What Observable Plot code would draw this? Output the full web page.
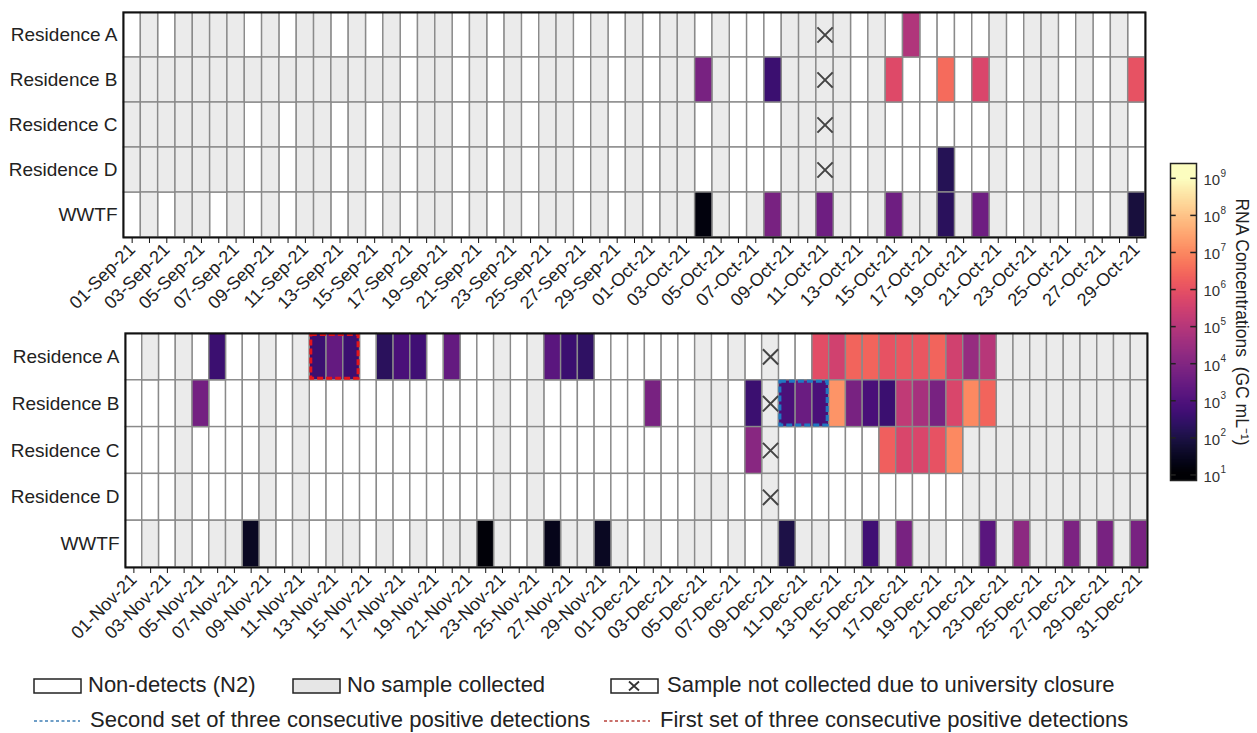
<!DOCTYPE html>
<html><head><meta charset="utf-8">
<script src="https://cdn.jsdelivr.net/npm/d3@7"></script>
<script src="https://cdn.jsdelivr.net/npm/@observablehq/plot@0.6"></script>
<style>
body{margin:0;background:#fff;font-family:"Liberation Sans",Arial,sans-serif;}
#wrap{position:relative;width:1257px;height:733px;overflow:hidden;background:#fff;}
.abs{position:absolute;}
.leg{position:absolute;font-size:22px;color:#222;white-space:nowrap;line-height:22px;}
</style></head><body><div id="wrap"></div>
<script>
// ---------- categories ----------
const rowNames = ["Residence A","Residence B","Residence C","Residence D","WWTF"];
// "w" = non-detect, "g" = no sample, "x" = closure, number = log10 RNA conc. (GC/mL)
// ---------- Sep 1 – Oct 29, 2021 ----------
const soResA = ["w","g","w","g","g","g","g","w","g","w", "g","g","w","g","w","g","w","g","g","w", "g","w","g","w","g","g","w","g","w","g", "w","g","g","w","g","w","w","w","g","g", "x","g","w","g","w",4.9,"w","w","w","w", "g","w","g","g","w","g","w","g","w"];
const soResB = ["g","g","g","g","g","g","g","g","g","g", "g","g","g","g","g","g","w","g","g","w", "g","w","g","w","g","g","w","g","w","g", "w","g","g",3.8,"g","w","w",2.6,"g","g", "x","g","w","g",5.8,"w","w",6.5,"w",5.7, "g","w","g","g","w","g","w","g",6.0];
const soResC = ["g","g","g","g","g","g","g","w","g","w", "g","g","w","g","w","g","w","g","g","w", "g","w","g","w","g","g","w","g","w","g", "w","g","g","w","g","w","w","w","g","g", "x","g","w","g","w","w","w","w","w","w", "g","w","g","g","w","g","w","g","w"];
const soResD = ["g","g","g","g","g","g","g","w","g","w", "g","g","w","g","w","g","w","g","g","w", "g","w","g","w","g","g","w","g","w","g", "w","g","g","w","g","w","w","w","g","g", "x","g","w","g","w","w","w",2.2,"w","w", "g","w","g","g","w","g","w","g","w"];
const soWWTF = ["w","g","w","g","g","w","g","w","g","w", "g","g","w","g","w","g","w","g","g","w", "g","w","g","w","g","g","w","g","w","g", "w","g","g",1.2,"g","w","g",3.8,"g","g", 3.6,"g","w","g",3.6,"g","g",2.3,"g",3.6, "g","w","g","g","w","g","w","g",1.9];
const soTickLabels = ["01-Sep-21","03-Sep-21","05-Sep-21","07-Sep-21","09-Sep-21","11-Sep-21","13-Sep-21","15-Sep-21","17-Sep-21","19-Sep-21","21-Sep-21","23-Sep-21","25-Sep-21","27-Sep-21","29-Sep-21","01-Oct-21","03-Oct-21","05-Oct-21","07-Oct-21","09-Oct-21","11-Oct-21","13-Oct-21","15-Oct-21","17-Oct-21","19-Oct-21","21-Oct-21","23-Oct-21","25-Oct-21","27-Oct-21","29-Oct-21"];
// ---------- Nov 1 – Dec 31, 2021 ----------
const ndResA = ["w","g","w","g","w",2.6,"w","w","g","w", "g",2.6,3.4,2.6,"w",2.3,2.9,2.7,"w",3.4, "w","w","g","w","g",3.2,2.6,2.4,"w","w", "w","w","w","w","g","w","g","w","x","w", "w",5.9,5.5,6.4,6.4,6.0,6.1,6.1,6.4,5.5, 4.4,5.0,"g","g","g","g","g","g","g","g","g"];
const ndResB = ["w","w","w","g",3.7,"w","w","w","g","w", "g","w","w","w","w","w","w","w","w","w", "w","w","g","w","g","w","w","w","w","w", "w",3.8,"w","w","g","g","w",2.6,"x",2.9, 3.5,2.9,7.2,3.8,2.9,2.6,5.2,4.7,3.8,5.7, 7.0,6.4,"g","g","g","g","g","g","g","g","g"];
const ndResC = ["w","w","w","g","w","w","w","w","g","w", "g","w","w","w","w","w","w","w","w","w", "w","w","g","w","g","w","w","w","w","w", "w","w","w","w","g","w","w",4.1,"x","w", "w","w","w","w","w",6.3,5.7,5.7,6.0,7.0, "g","g","g","g","g","g","g","g","g","g","g"];
const ndResD = ["w","w","w","g","w","w","w","w","g","w", "g","w","w","w","w","w","w","w","w","w", "w","w","g","w","g","w","w","w","w","w", "w","w","w","w","g","g","w","w","x","w", "w","w","w","w","w","w","w","w","w","w", "g","g","g","g","g","g","g","g","g","g","g"];
const ndWWTF = ["w","g","w","g","w","g","g",1.5,"g","w", "g","w","g","g","w","g","w","g","w","g", "g",1.1,"g","w","g",1.4,"g","g",1.5,"g", "w","g","w","g","g","w","g","w","g",2.0, "g","g","w","g",2.7,"g",3.8,"g","g","w", "g",3.2,"g",4.2,"g","g",3.9,"g",3.8,"g",3.8];
const ndTickLabels = ["01-Nov-21","03-Nov-21","05-Nov-21","07-Nov-21","09-Nov-21","11-Nov-21","13-Nov-21","15-Nov-21","17-Nov-21","19-Nov-21","21-Nov-21","23-Nov-21","25-Nov-21","27-Nov-21","29-Nov-21","01-Dec-21","03-Dec-21","05-Dec-21","07-Dec-21","09-Dec-21","11-Dec-21","13-Dec-21","15-Dec-21","17-Dec-21","19-Dec-21","21-Dec-21","23-Dec-21","25-Dec-21","27-Dec-21","29-Dec-21","31-Dec-21"];
// consecutive detection sets (row, first column, number of days)
const firstSet  = {row: 0, start: 11, days: 3};
const secondSet = {row: 1, start: 39, days: 3};
// colour bar decades (log10)
const decades = [1,2,3,4,5,6,7,8,9];
const colorDomain = [1, 9];

const FONT = "'Liberation Sans', Arial, sans-serif";
const GRID = "#8a8a8a";

function panel(rows, tickLabels, o) {
  const n = rows[0].length;
  const cells = [];
  rows.forEach((arr, r) => arr.forEach((v, i) => cells.push({r, i, v})));
  const white = cells.filter(d => d.v === "w");
  const gray = cells.filter(d => d.v === "g" || d.v === "x");
  const pos = cells.filter(d => typeof d.v === "number");
  const closed = cells.filter(d => d.v === "x");
  const rectOpts = {x1: "i", x2: d => d.i + 1, y1: "r", y2: d => d.r + 1, stroke: GRID, strokeWidth: 1.4};
  const boxMarks = (o.boxes || []).map(b => Plot.rect([b.set], {
    x1: d => d.start, x2: d => d.start + d.days, y1: d => d.row, y2: d => d.row + 1,
    fill: "none", stroke: b.color, strokeWidth: 3, strokeDasharray: "6,3", inset: 1.5
  }));
  return Plot.plot({
    width: o.width, height: o.height,
    marginLeft: o.ml, marginRight: o.mr, marginTop: o.mt, marginBottom: o.mb,
    style: {fontFamily: FONT, fontSize: "16px", color: "#222", background: "transparent"},
    x: {domain: [0, n], label: null},
    y: {domain: [0, 5], reverse: true, label: null},
    color: {type: "linear", scheme: "magma", domain: colorDomain},
    marks: [
      Plot.rect(white, {...rectOpts, fill: "white"}),
      Plot.rect(gray, {...rectOpts, fill: "#ebebeb"}),
      Plot.rect(pos, {...rectOpts, fill: "v"}),
      Plot.dot(closed, {x: d => d.i + 0.5, y: d => d.r + 0.5, symbol: "times", r: 7, stroke: "#444", strokeWidth: 2}),
      ...boxMarks,
      Plot.axisX(d3.range(n).map(i => i + 0.5), {
        label: null, tickSize: 6, tickPadding: 3, tickRotate: -45, fontSize: o.tickFont, stroke: "#111", fill: "#222",
        tickFormat: d => { const i = Math.round(d - 0.5); return i % 2 === 0 ? tickLabels[i / 2] : ""; }
      }),
      Plot.axisY(d3.range(5).map(i => i + 0.5), {
        label: null, tickSize: 0, tickPadding: 6, fontSize: 19, fill: "#222",
        tickFormat: d => rowNames[Math.round(d - 0.5)]
      }),
      Plot.frame({stroke: "#111", strokeWidth: 2})
    ]
  });
}

const wrap = document.getElementById("wrap");
function place(el, left, topPx) { el.classList.add("abs"); el.style.left = left + "px"; el.style.top = topPx + "px"; wrap.appendChild(el); }

const topPanel = panel([soResA, soResB, soResC, soResD, soWWTF], soTickLabels,
  {width: 1257, height: 315, ml: 123, mr: 112, mt: 12, mb: 78, tickFont: 18});
place(topPanel, 0, 0);

const bottomPanel = panel([ndResA, ndResB, ndResC, ndResD, ndWWTF], ndTickLabels,
  {width: 1257, height: 345, ml: 125, mr: 110, mt: 15, mb: 96, tickFont: 18,
   boxes: [{set: firstSet, color: "#e3141b"}, {set: secondSet, color: "#1f78c1"}]});
place(bottomPanel, 0, 318);

// ---------- colour bar ----------
const cb = Plot.plot({
  width: 107, height: 360, marginLeft: 20, marginRight: 61, marginTop: 23, marginBottom: 20,
  style: {fontFamily: FONT, fontSize: "14px", color: "#222", background: "transparent", overflow: "visible"},
  x: {domain: [0, 1], axis: null},
  y: {domain: [0.85, 9.4], axis: null},
  color: {type: "linear", scheme: "magma", domain: colorDomain},
  marks: [
    Plot.raster({x1: 0, x2: 1, y1: 0.85, y2: 9.4, width: 2, height: 400, fill: (x, y) => y}),
    Plot.ruleY(decades, {x1: 0, x2: 0.22, stroke: "#222", strokeWidth: 1.5}),
    Plot.ruleY(decades, {x1: 0.78, x2: 1, stroke: "#222", strokeWidth: 1.5}),
    Plot.frame({stroke: "#222", strokeWidth: 1.5}),
    Plot.text(decades, {y: d => d, frameAnchor: "right", dx: 7, dy: 2, textAnchor: "start", text: () => "10", fontSize: 15, fill: "#333"}),
    Plot.text(decades, {y: d => d, frameAnchor: "right", dx: 24, dy: -5, textAnchor: "start", text: d => String(d), fontSize: 10, fill: "#333"}),
    Plot.text(["RNA Concentrations  (GC mL\u207B\u00B9)"], {frameAnchor: "right", dx: 45, rotate: 90, textAnchor: "middle", fontSize: 17.5, fill: "#222"})
  ]
});
place(cb, 1150, 140);

// ---------- legend ----------
const legendBoxes = [
  {left: 33, fill: "#ffffff", x: false, label: "Non-detects (N2)", textLeft: 88},
  {left: 292, fill: "#e6e6e6", x: false, label: "No sample collected", textLeft: 347},
  {left: 610, fill: "#ffffff", x: true, label: "Sample not collected due to university closure", textLeft: 667}
];
const legendLines = [
  {left: 33, color: "#3f7fb5", label: "Second set of three consecutive positive detections", textLeft: 90},
  {left: 603, color: "#b8403a", label: "First set of three consecutive positive detections", textLeft: 660}
];
const NS = "http://www.w3.org/2000/svg";
legendBoxes.forEach(b => {
  const s = document.createElementNS(NS, "svg");
  s.setAttribute("width", 50); s.setAttribute("height", 17);
  s.innerHTML = `<rect x="1" y="1" width="47" height="14" fill="${b.fill}" stroke="#222" stroke-width="1.5"/>` +
    (b.x ? `<path d="M19,3.5L29,12.5M29,3.5L19,12.5" stroke="#333" stroke-width="1.8"/>` : "");
  s.style.position = "absolute"; s.style.left = b.left + "px"; s.style.top = "678px";
  wrap.appendChild(s);
  const t = document.createElement("div"); t.className = "leg"; t.textContent = b.label;
  t.style.left = b.textLeft + "px"; t.style.top = "674px"; wrap.appendChild(t);
});
legendLines.forEach(b => {
  const s = document.createElementNS(NS, "svg");
  s.setAttribute("width", 50); s.setAttribute("height", 6);
  s.innerHTML = `<line x1="1" y1="3" x2="47" y2="3" stroke="${b.color}" stroke-width="1.6" stroke-dasharray="3,2.5"/>`;
  s.style.position = "absolute"; s.style.left = b.left + "px"; s.style.top = "718px";
  wrap.appendChild(s);
  const t = document.createElement("div"); t.className = "leg"; t.textContent = b.label;
  t.style.left = b.textLeft + "px"; t.style.top = "709px"; wrap.appendChild(t);
});
</script></body></html>
